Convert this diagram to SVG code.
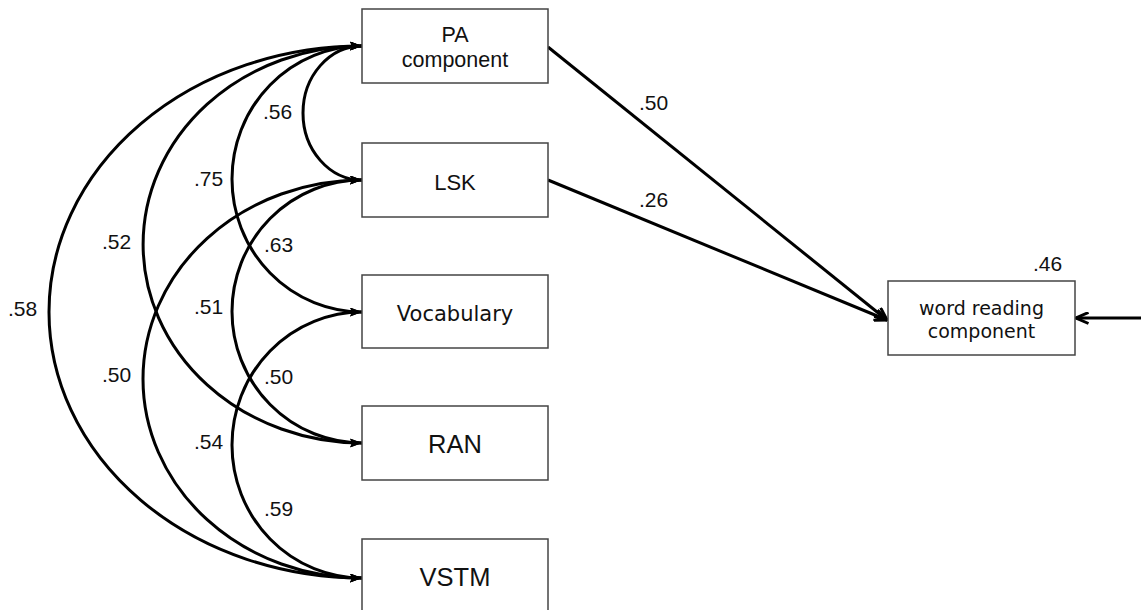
<svg xmlns="http://www.w3.org/2000/svg" width="1141" height="610" viewBox="0 0 1141 610">
<style>
.box{fill:#fff;stroke:#444;stroke-width:1.5}
.lbl{font-family:"Liberation Sans",Arial,sans-serif;font-size:21px;fill:#111}
.nm{font-family:"Liberation Sans",Arial,sans-serif;fill:#111;text-anchor:middle}
.nm2{font-family:"DejaVu Sans",Verdana,sans-serif;fill:#111;text-anchor:middle}
.arc{fill:none;stroke:#000;stroke-width:3;marker-start:url(#tri);marker-end:url(#tri)}
.ln{fill:none;stroke:#000;stroke-width:3;marker-end:url(#vee)}
</style>
<defs>
<marker id="tri" viewBox="0 0 12 9" refX="12" refY="4.5" markerWidth="12" markerHeight="9" markerUnits="userSpaceOnUse" orient="auto-start-reverse">
<path d="M0,0 L12,4.5 L0,9 L2,4.5 z" fill="#000"/>
</marker>
<marker id="vee" viewBox="0 0 15 13" refX="14" refY="6.5" markerWidth="15" markerHeight="13" markerUnits="userSpaceOnUse" orient="auto">
<path d="M1.5,1 L14,6.5 L1.5,12" fill="none" stroke="#000" stroke-width="3" stroke-linejoin="miter"/>
</marker>
</defs>
<rect width="1141" height="610" fill="#fff"/>
<g id="connectors">
<path class="arc" d="M362 46 A59 67 0 0 0 362 180"/>
<path class="arc" d="M362 46 A130 133 0 0 0 362 312"/>
<path class="arc" d="M362 46 A219 198.5 0 0 0 362 443"/>
<path class="arc" d="M362 46 A313 266 0 0 0 362 578"/>
<path class="arc" d="M362 180 A130 131.5 0 0 0 362 443"/>
<path class="arc" d="M362 180 A219 199 0 0 0 362 578"/>
<path class="arc" d="M362 312 A130 133 0 0 0 362 578"/>
<path class="ln" d="M548 47 L887 320"/>
<path class="ln" d="M548 180 L887 320"/>
<path class="ln" d="M1141 318 L1076 318"/>
<text class="lbl" x="263" y="119">.56</text>
<text class="lbl" x="194" y="186">.75</text>
<text class="lbl" x="264" y="252">.63</text>
<text class="lbl" x="194" y="314">.51</text>
<text class="lbl" x="264" y="384">.50</text>
<text class="lbl" x="194" y="449">.54</text>
<text class="lbl" x="264" y="516">.59</text>
<text class="lbl" x="102" y="249">.52</text>
<text class="lbl" x="8" y="316">.58</text>
<text class="lbl" x="102" y="382">.50</text>
<text class="lbl" x="639" y="110">.50</text>
<text class="lbl" x="639" y="207">.26</text>
<text class="lbl" x="1033" y="271">.46</text>
</g>
<g id="pa">
<rect class="box" x="362" y="9" width="186" height="74"/>
<text class="nm" x="455" y="42" font-size="21.5">PA</text>
<text class="nm" x="455" y="67" font-size="21.5">component</text>
</g>
<g id="lsk">
<rect class="box" x="362" y="143" width="186" height="74"/>
<text class="nm" x="455" y="190" font-size="22">LSK</text>
</g>
<g id="vocabulary">
<rect class="box" x="362" y="275" width="186" height="73"/>
<text class="nm2" x="455" y="321" font-size="21">Vocabulary</text>
</g>
<g id="ran">
<rect class="box" x="362" y="406" width="186" height="74"/>
<text class="nm" x="455" y="453" font-size="25.5">RAN</text>
</g>
<g id="vstm">
<rect class="box" x="362" y="539" width="186" height="80"/>
<text class="nm" x="455" y="586" font-size="25.5">VSTM</text>
</g>
<g id="word-reading">
<rect class="box" x="888" y="281" width="187" height="74"/>
<text class="nm2" x="981.5" y="315" font-size="19">word reading</text>
<text class="nm2" x="981.5" y="338" font-size="19">component</text>
</g>
</svg>
